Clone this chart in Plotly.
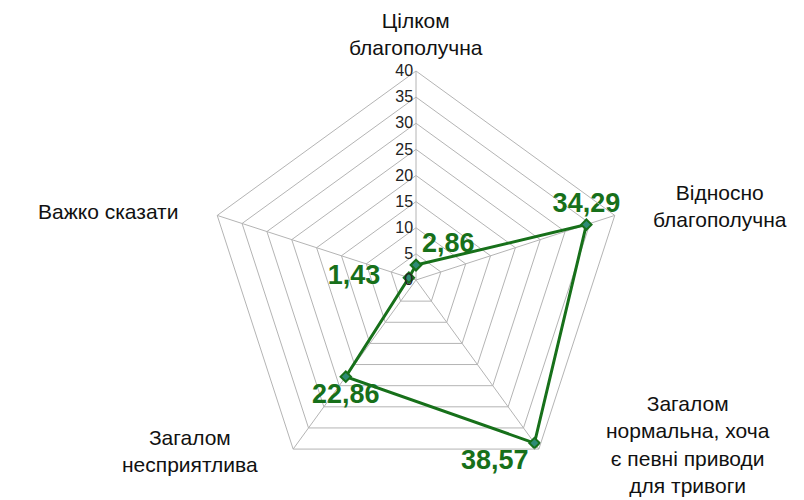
import plotly.graph_objects as go

# категорії та відсотки
categories = ["Цілком благополучна", "Відносно благополучна",
              "Загалом нормальна, хоча є певні приводи для тривоги",
              "Загалом несприятлива", "Важко сказати"]
values = [2.86, 34.29, 38.57, 22.86, 1.43]
value_labels = ["2,86", "34,29", "38,57", "22,86", "1,43   "]
label_pos = ["top right", "top center", "bottom left", "bottom center", "middle left"]

# підписи осей (як на картинці, з переносами)
axis_text = ["Цілком<br>благополучна", "Відносно<br>благополучна",
             "Загалом<br>нормальна, хоча<br>є певні приводи<br>для тривоги",
             "Загалом<br>несприятлива", "Важко сказати"]
axis_xy = [(408, 26), (712, 198), (680, 436), (182, 443), (100, 203)]

green = "#17701a"

fig = go.Figure()
fig.add_trace(go.Scatterpolar(
    r=values + values[:1], theta=categories + categories[:1],
    mode="lines+markers+text",
    line=dict(color=green, width=3),
    marker=dict(symbol="diamond", size=8, color="#2e8b76", line=dict(color=green, width=2)),
    text=value_labels + [""], textposition=label_pos + ["top center"],
    textfont=dict(family="Liberation Sans, Arial", size=27, color=green, weight="bold"),
    cliponaxis=False, showlegend=False,
))

W, H = 804, 500
cx, cy, R = 408, 272, 209
fig.update_layout(
    width=W, height=H, margin=dict(l=0, r=0, t=0, b=0),
    paper_bgcolor="white", plot_bgcolor="white",
    font=dict(family="Liberation Sans, Arial", color="#111"),
    polar=dict(
        domain=dict(x=[(cx - R) / W, (cx + R) / W], y=[(H - cy - R) / H, (H - cy + R) / H]),
        gridshape="linear", bgcolor="white",
        radialaxis=dict(range=[0, 40], tickvals=list(range(0, 45, 5)), angle=90,
                        tickangle=90,
                        showline=False, gridcolor="#b4b4b4", gridwidth=1,
                        ticks="", side="counterclockwise",
                        tickfont=dict(size=16, color="#222")),
        angularaxis=dict(rotation=90, direction="clockwise", showticklabels=False,
                         ticks="", gridcolor="#b4b4b4", linecolor="#b4b4b4", linewidth=1),
    ),
)

for txt, (x, y) in zip(axis_text, axis_xy):
    fig.add_annotation(x=x / W, y=1 - y / H, xref="paper", yref="paper", text=txt,
                       xanchor="center", yanchor="middle",
                       showarrow=False, font=dict(size=21, color="#111"), align="center")

fig.write_html("out.html")
